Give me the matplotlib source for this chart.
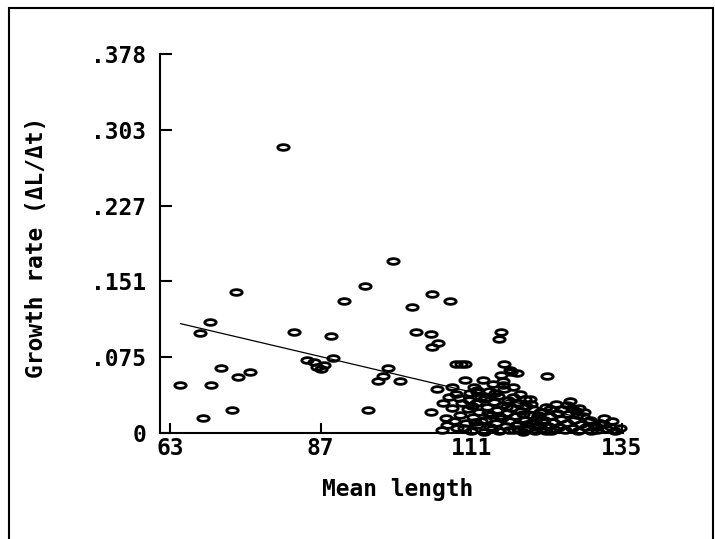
import numpy as np
import matplotlib
matplotlib.use('Agg')
from matplotlib import pyplot as plt
from matplotlib.path import Path
from matplotlib.transforms import Affine2D
from matplotlib.patches import Rectangle

FONT = 'DejaVu Sans Mono'
FSIZE = 16.5

# scattered points (mean length, growth rate)
length_a = [64.6, 67.7, 68.3, 69.3, 69.6, 71.2, 72.8, 73.5, 73.8, 75.7,
            81.0, 82.8, 84.8, 85.9, 86.4, 87.0, 87.6, 88.6, 89.0, 90.7,
            94.0, 94.5, 96.2, 97.0, 97.7, 98.5, 99.7, 101.5, 102.2, 104.6,
            104.8, 104.8, 105.7, 107.6, 108.6, 109.3, 110.0, 115.5, 115.8, 116.2,
            117.2, 118.3, 123.1, 104.6, 105.5]
rate_a = [0.048, 0.100, 0.015, 0.111, 0.048, 0.065, 0.023, 0.141, 0.056, 0.061,
          0.285, 0.101, 0.073, 0.071, 0.066, 0.064, 0.068, 0.097, 0.075, 0.132,
          0.147, 0.023, 0.052, 0.057, 0.065, 0.172, 0.052, 0.126, 0.101, 0.099,
          0.086, 0.139, 0.090, 0.132, 0.069, 0.069, 0.069, 0.094, 0.101, 0.069,
          0.063, 0.060, 0.057, 0.021, 0.044]

# dense cluster of larger fish
length_b = [106.4, 106.5, 107.0, 107.5, 108.0, 108.6, 108.8, 109.2, 109.5, 110.0,
            110.2, 110.5, 110.8, 111.0, 111.3, 111.5, 111.8, 112.0, 112.3, 112.6,
            112.9, 113.0, 113.2, 113.5, 113.8, 114.0, 114.2, 114.4, 114.6, 114.9,
            115.1, 115.3, 115.5, 115.8, 115.9, 116.0, 116.3, 116.5, 116.7, 116.9,
            117.1, 117.3, 117.4, 117.7, 117.8, 118.0, 118.2, 118.5, 118.8, 119.0,
            119.2, 119.5, 119.8, 120.0, 120.3, 120.6, 120.9, 121.2, 121.5, 121.8,
            122.0, 122.3, 122.6, 122.9, 123.2, 123.5, 123.8, 124.1, 124.5, 124.7,
            125.0, 125.3, 125.6, 125.9, 126.2, 126.5, 126.8, 127.1, 127.4, 127.7,
            128.0, 128.2, 128.5, 128.9, 129.3, 129.7, 130.1, 130.5, 131.1, 131.6,
            132.2, 132.7, 133.3, 134.0, 134.7, 111.6, 113.4, 118.4, 120.4, 121.0]
rate_b = [0.003, 0.030, 0.015, 0.036, 0.025, 0.039, 0.005, 0.018, 0.030, 0.053,
          0.010, 0.024, 0.040, 0.002, 0.016, 0.046, 0.030, 0.008, 0.021, 0.036,
          0.053, 0.001, 0.013, 0.026, 0.042, 0.006, 0.018, 0.049, 0.031, 0.010,
          0.023, 0.037, 0.002, 0.058, 0.015, 0.028, 0.044, 0.007, 0.020, 0.033,
          0.012, 0.061, 0.025, 0.046, 0.003, 0.017, 0.030, 0.009, 0.039, 0.022,
          0.001, 0.013, 0.027, 0.005, 0.018, 0.010, 0.024, 0.002, 0.015, 0.008,
          0.021, 0.004, 0.013, 0.026, 0.007, 0.017, 0.002, 0.011, 0.029, 0.020,
          0.006, 0.014, 0.024, 0.003, 0.010, 0.019, 0.032, 0.005, 0.013, 0.022,
          0.002, 0.025, 0.009, 0.017, 0.006, 0.012, 0.002, 0.008, 0.003, 0.010,
          0.015, 0.004, 0.006, 0.002, 0.005, 0.011, 0.035, 0.004, 0.034, 0.012]

# more of the cluster, filling the dark mass
length_c = [107.2, 108.3, 109.0, 109.8, 110.6, 111.2, 111.9, 112.5, 113.1, 113.7,
            114.3, 114.8, 115.4, 116.0, 116.6, 117.0, 117.6, 118.1, 118.7, 119.3,
            119.9, 120.5, 121.1, 121.7, 122.4, 123.0, 123.6, 124.2, 126.3, 127.0,
            127.8, 129.0, 130.0, 131.0, 132.0, 133.5, 108.0, 112.0, 116.0, 119.6]
rate_c = [0.008, 0.012, 0.035, 0.005, 0.033, 0.027, 0.043, 0.012, 0.034, 0.020,
          0.004, 0.040, 0.017, 0.048, 0.026, 0.003, 0.036, 0.008, 0.030, 0.019,
          0.009, 0.029, 0.006, 0.018, 0.011, 0.002, 0.024, 0.004, 0.028, 0.025,
          0.018, 0.021, 0.013, 0.006, 0.009, 0.012, 0.046, 0.041, 0.052, 0.034]

# fitted regression line
fit_x = [64.7, 134.7]
fit_y = [0.109, 0.006]

xticks = [63, 87, 111, 135]
yticks = [0, 0.0756, 0.1512, 0.2268, 0.3024, 0.378]
ytick_labels = ['0', '.075', '.151', '.227', '.303', '.378']

# flat open ellipse marker
ellipse = Path.unit_circle().transformed(Affine2D().scale(1.0, 0.5))


def main():
    fig = plt.figure(figsize=(7.15, 5.39), dpi=100)
    ax = fig.add_axes([0.2238, 0.1967, 0.6471, 0.7032])

    lengths = length_a + length_b + length_c
    rates = rate_a + rate_b + rate_c
    ax.plot(lengths, rates, linestyle='none', marker=ellipse, markersize=8.2,
            mfc='none', mec='black', mew=2.0, clip_on=False)
    ax.plot(fit_x, fit_y, color='black', lw=0.9)

    ax.set_xlim(61.4, 135.15)
    ax.set_ylim(0, 0.378)
    for side in ('top', 'right'):
        ax.spines[side].set_visible(False)
    for side in ('left', 'bottom'):
        ax.spines[side].set_linewidth(1.5)

    ax.set_xticks(xticks)
    ax.set_xticklabels([str(t) for t in xticks])
    ax.set_yticks(yticks)
    ax.set_yticklabels(ytick_labels)
    ax.tick_params(axis='x', direction='in', length=7, width=1.5, pad=3)
    ax.tick_params(axis='y', direction='in', length=8.6, width=1.5, pad=10)
    for lab in ax.get_xticklabels() + ax.get_yticklabels():
        lab.set_fontfamily(FONT)
        lab.set_fontweight('bold')
        lab.set_fontsize(FSIZE)

    ax.set_xlabel('Mean length', fontfamily=FONT, fontweight='bold',
                  fontsize=FSIZE)
    ax.xaxis.set_label_coords(0.514, -0.12)
    ax.set_ylabel('Growth rate (\u0394L/\u0394t)', fontfamily=FONT,
                  fontweight='bold', fontsize=FSIZE, va='center')
    ax.yaxis.set_label_coords(-0.266, 0.491)

    # outer frame of the original figure
    fig.patches.append(Rectangle((9 / 715, -0.02), 704 / 715, 1.02 - 8 / 539,
                                 transform=fig.transFigure, fill=False,
                                 edgecolor='black', lw=1.5))

    fig.savefig('out.png', dpi=100)


main()
